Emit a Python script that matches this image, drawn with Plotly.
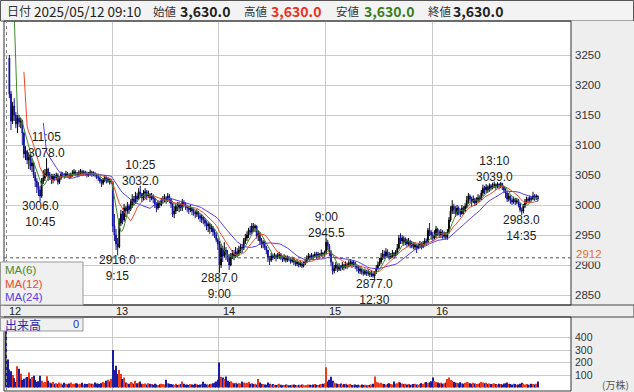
import plotly.graph_objects as go
import pandas as pd

W, H = 634, 392
FONT = "Noto Sans CJK JP"
NUMFONT = "Liberation Sans"

day_labels = ["12", "13", "14", "15", "16"]
bars_per_day = 66

# ---------------- 5-minute bars, 2025/05/12 ----------------
d12_open = [3630, 3630, 3245, 3185, 3140, 3165, 3150, 3135, 3145, 3138,
            3140, 3120, 3085, 3090, 3075, 3080, 3065, 3070, 3050, 3040,
            3030, 3025, 3015, 3040, 3045, 3052, 3060, 3048, 3050, 3042,
            3048, 3045, 3050, 3038, 3045, 3052, 3050, 3048, 3052, 3050,
            3047, 3050, 3053, 3055, 3052, 3050, 3054, 3056, 3052, 3055,
            3053, 3050, 3052, 3055, 3051, 3053, 3050, 3047, 3045, 3040,
            3036, 3042, 3046, 3040, 3043, 3038]
d12_high = [3630, 3630, 3250, 3190, 3172, 3178, 3155, 3150, 3150, 3145,
            3142, 3122, 3098, 3092, 3088, 3085, 3078, 3072, 3055, 3045,
            3038, 3032, 3045, 3058, 3060, 3078, 3062, 3055, 3052, 3052,
            3052, 3054, 3053, 3048, 3056, 3055, 3053, 3057, 3055, 3053,
            3054, 3058, 3060, 3058, 3055, 3058, 3060, 3059, 3058, 3057,
            3056, 3055, 3059, 3057, 3056, 3055, 3052, 3050, 3048, 3043,
            3045, 3050, 3048, 3046, 3045, 3043]
d12_low = [3630, 3630, 3178, 3125, 3135, 3140, 3128, 3120, 3130, 3128,
           3100, 3078, 3075, 3068, 3060, 3058, 3055, 3045, 3030, 3020,
           3015, 3006, 3012, 3035, 3040, 3048, 3040, 3042, 3035, 3036,
           3040, 3041, 3034, 3035, 3042, 3046, 3044, 3045, 3046, 3043,
           3044, 3047, 3049, 3048, 3046, 3047, 3050, 3048, 3049, 3049,
           3046, 3047, 3049, 3047, 3048, 3046, 3043, 3040, 3036, 3030,
           3033, 3038, 3036, 3037, 3034, 3035]
d12_close = [3630, 3630, 3185, 3140, 3165, 3150, 3135, 3145, 3138, 3140,
             3120, 3085, 3090, 3075, 3080, 3065, 3070, 3050, 3040, 3030,
             3025, 3015, 3040, 3045, 3052, 3060, 3048, 3050, 3042, 3048,
             3045, 3050, 3038, 3045, 3052, 3050, 3048, 3052, 3050, 3047,
             3050, 3053, 3055, 3052, 3050, 3054, 3056, 3052, 3055, 3053,
             3050, 3052, 3055, 3051, 3053, 3050, 3047, 3045, 3040, 3036,
             3042, 3046, 3040, 3043, 3038, 3040]
d12_vol = [900, 225, 145, 130, 100, 75, 45, 170, 150, 110,
           60, 70, 80, 85, 120, 70, 85, 95, 60, 45,
           50, 95, 55, 40, 45, 90, 55, 40, 35, 45,
           30, 35, 28, 40, 32, 25, 38, 30, 27, 33,
           40, 28, 30, 35, 32, 26, 30, 38, 25, 30,
           28, 35, 32, 30, 27, 40, 33, 30, 28, 35,
           45, 38, 55, 62, 48, 70]

# ---------------- 2025/05/13 ----------------
d13_open = [3038, 2965, 2950, 2935, 2930, 2970, 2985, 2975, 2995, 2990,
            2998, 2992, 3000, 3010, 3005, 3015, 3010, 3022, 3018, 3012,
            3020, 3022, 3015, 3018, 3012, 3015, 3010, 3000, 2995, 3003,
            3000, 3008, 3010, 3012, 3008, 3015, 3010, 3002, 2985, 2990,
            2998, 2995, 3000, 2995, 3005, 3002, 2998, 2995, 2992, 2995,
            2990, 2988, 2985, 2988, 2982, 2978, 2980, 2975, 2970, 2965,
            2968, 2960, 2962, 2955, 2950, 2942]
d13_high = [3040, 2985, 2960, 2945, 2978, 2992, 2990, 3002, 2998, 3005,
            3002, 3008, 3018, 3015, 3022, 3020, 3028, 3032, 3020, 3025,
            3028, 3025, 3024, 3020, 3020, 3018, 3012, 3005, 3008, 3006,
            3012, 3015, 3018, 3015, 3020, 3018, 3012, 3003, 2998, 3003,
            3005, 3005, 3003, 3010, 3008, 3005, 3000, 2998, 3000, 2996,
            2994, 2992, 2993, 2990, 2986, 2985, 2982, 2978, 2974, 2972,
            2970, 2968, 2965, 2960, 2955, 2945]
d13_low = [2955, 2940, 2925, 2916, 2928, 2965, 2968, 2972, 2980, 2985,
           2985, 2990, 2995, 3000, 3002, 3005, 3008, 3012, 3005, 3008,
           3010, 3008, 3012, 3005, 3008, 3003, 2995, 2988, 2992, 2995,
           2998, 3003, 3005, 3002, 3005, 3003, 2995, 2980, 2978, 2985,
           2990, 2988, 2990, 2990, 2996, 2992, 2988, 2985, 2988, 2983,
           2982, 2978, 2980, 2976, 2972, 2970, 2968, 2964, 2958, 2955,
           2952, 2955, 2948, 2945, 2938, 2925]
d13_close = [2965, 2950, 2935, 2930, 2970, 2985, 2975, 2995, 2990, 2998,
             2992, 3000, 3010, 3005, 3015, 3010, 3022, 3018, 3012, 3020,
             3022, 3015, 3018, 3012, 3015, 3010, 3000, 2995, 3003, 3000,
             3008, 3010, 3012, 3008, 3015, 3010, 3002, 2985, 2990, 2998,
             2995, 3000, 2995, 3005, 3002, 2998, 2995, 2992, 2995, 2990,
             2988, 2985, 2988, 2982, 2978, 2980, 2975, 2970, 2965, 2968,
             2960, 2962, 2955, 2950, 2942, 2935]
d13_vol = [300, 140, 175, 108, 140, 108, 68, 81, 40, 35,
           30, 45, 38, 30, 54, 35, 40, 48, 30, 28,
           32, 25, 35, 30, 28, 22, 30, 25, 20, 26,
           30, 28, 25, 62, 35, 30, 28, 25, 22, 30,
           20, 25, 28, 49, 30, 22, 25, 20, 28, 25,
           22, 30, 26, 20, 24, 28, 46, 30, 25, 22,
           28, 30, 35, 40, 48, 62]

# ---------------- 2025/05/14 ----------------
d14_open = [2935, 2900, 2928, 2915, 2925, 2918, 2912, 2900, 2915, 2920,
            2915, 2922, 2918, 2925, 2930, 2928, 2940, 2945, 2950, 2958,
            2955, 2965, 2962, 2965, 2948, 2952, 2940, 2935, 2938, 2930,
            2925, 2912, 2908, 2915, 2912, 2916, 2912, 2915, 2918, 2912,
            2910, 2914, 2908, 2912, 2910, 2906, 2910, 2905, 2902, 2905,
            2900, 2903, 2898, 2902, 2906, 2912, 2915, 2912, 2916, 2914,
            2918, 2915, 2918, 2916, 2920, 2918]
d14_high = [2940, 2935, 2932, 2938, 2930, 2925, 2918, 2920, 2925, 2925,
            2930, 2928, 2932, 2935, 2935, 2945, 2952, 2956, 2962, 2965,
            2970, 2970, 2968, 2966, 2958, 2955, 2945, 2942, 2940, 2932,
            2925, 2915, 2920, 2918, 2920, 2918, 2920, 2922, 2920, 2915,
            2918, 2916, 2916, 2915, 2912, 2914, 2912, 2908, 2910, 2906,
            2908, 2905, 2906, 2910, 2916, 2920, 2918, 2920, 2918, 2922,
            2922, 2922, 2920, 2926, 2922, 2924]
d14_low = [2887, 2895, 2905, 2912, 2908, 2905, 2892, 2898, 2910, 2908,
           2912, 2912, 2915, 2920, 2920, 2925, 2935, 2940, 2945, 2950,
           2952, 2955, 2955, 2944, 2940, 2935, 2928, 2928, 2925, 2918,
           2905, 2900, 2905, 2908, 2910, 2906, 2910, 2910, 2908, 2905,
           2906, 2904, 2905, 2906, 2902, 2904, 2900, 2898, 2898, 2896,
           2897, 2895, 2896, 2900, 2904, 2908, 2908, 2910, 2909, 2912,
           2910, 2912, 2911, 2914, 2912, 2914]
d14_close = [2900, 2928, 2915, 2925, 2918, 2912, 2900, 2915, 2920, 2915,
             2922, 2918, 2925, 2930, 2928, 2940, 2945, 2950, 2958, 2955,
             2965, 2962, 2965, 2948, 2952, 2940, 2935, 2938, 2930, 2925,
             2912, 2908, 2915, 2912, 2916, 2912, 2915, 2918, 2912, 2910,
             2914, 2908, 2912, 2910, 2906, 2910, 2905, 2902, 2905, 2900,
             2903, 2898, 2902, 2906, 2912, 2915, 2912, 2916, 2914, 2918,
             2915, 2918, 2916, 2920, 2918, 2920]
d14_vol = [200, 86, 81, 68, 89, 54, 45, 50, 40, 35,
           38, 30, 35, 32, 49, 40, 35, 38, 45, 30,
           35, 28, 30, 25, 68, 40, 30, 28, 25, 22,
           40, 30, 25, 28, 22, 20, 25, 30, 22, 18,
           20, 25, 22, 18, 20, 22, 25, 20, 18, 22,
           20, 25, 22, 18, 20, 24, 22, 20, 25, 28,
           22, 20, 25, 28, 30, 35]

# ---------------- 2025/05/15 ----------------
d15_open = [2920, 2938, 2932, 2922, 2905, 2890, 2895, 2900, 2893, 2898,
            2895, 2900, 2896, 2902, 2898, 2903, 2905, 2900, 2904, 2898,
            2895, 2890, 2893, 2888, 2886, 2890, 2886, 2888, 2884, 2886,
            2882, 2888, 2895, 2900, 2905, 2912, 2918, 2915, 2922, 2918,
            2912, 2916, 2920, 2915, 2920, 2928, 2945, 2940, 2945, 2938,
            2942, 2935, 2940, 2932, 2936, 2930, 2934, 2928, 2932, 2935,
            2930, 2936, 2940, 2938, 2958, 2955]
d15_high = [2945.5, 2942, 2935, 2925, 2905, 2900, 2905, 2902, 2903, 2900,
            2905, 2902, 2906, 2904, 2908, 2910, 2908, 2908, 2905, 2900,
            2898, 2898, 2895, 2892, 2894, 2892, 2893, 2890, 2891, 2888,
            2890, 2900, 2906, 2912, 2920, 2925, 2924, 2928, 2926, 2922,
            2920, 2925, 2922, 2925, 2935, 2950, 2953, 2950, 2948, 2946,
            2944, 2945, 2942, 2940, 2938, 2938, 2935, 2936, 2940, 2938,
            2940, 2945, 2944, 2962, 2970, 2958]
d15_low = [2918, 2925, 2915, 2898, 2884, 2886, 2890, 2888, 2890, 2890,
           2892, 2891, 2894, 2893, 2896, 2898, 2895, 2897, 2893, 2889,
           2886, 2885, 2884, 2882, 2883, 2882, 2882, 2880, 2880, 2879,
           2877, 2885, 2892, 2898, 2902, 2908, 2910, 2912, 2912, 2908,
           2910, 2912, 2910, 2914, 2918, 2926, 2935, 2935, 2932, 2933,
           2930, 2932, 2928, 2928, 2926, 2925, 2920, 2926, 2928, 2926,
           2928, 2932, 2933, 2936, 2948, 2942]
d15_close = [2938, 2932, 2922, 2905, 2890, 2895, 2900, 2893, 2898, 2895,
             2900, 2896, 2902, 2898, 2903, 2905, 2900, 2904, 2898, 2895,
             2890, 2893, 2888, 2886, 2890, 2886, 2888, 2884, 2886, 2882,
             2888, 2895, 2900, 2905, 2912, 2918, 2915, 2922, 2918, 2912,
             2916, 2920, 2915, 2920, 2928, 2945, 2940, 2945, 2938, 2942,
             2935, 2940, 2932, 2936, 2930, 2934, 2928, 2932, 2935, 2930,
             2936, 2940, 2938, 2958, 2955, 2950]
d15_vol = [162, 49, 62, 86, 54, 40, 35, 30, 28, 32,
           25, 28, 30, 22, 25, 28, 20, 22, 25, 20,
           22, 18, 25, 20, 22, 18, 20, 22, 25, 30,
           89, 46, 40, 35, 38, 30, 28, 25, 30, 35,
           28, 25, 49, 30, 35, 45, 40, 32, 28, 30,
           25, 28, 22, 25, 28, 30, 25, 22, 28, 35,
           30, 40, 45, 38, 42, 50]

# ---------------- 2025/05/16 ----------------
d16_open = [2950, 2945, 2950, 2960, 2955, 2950, 2955, 2948, 2952, 2946,
            2955, 2975, 2990, 2998, 2992, 2985, 2995, 2990, 2985, 2995,
            2990, 2998, 3008, 3015, 3010, 3005, 3010, 3003, 3008, 3012,
            3010, 3020, 3028, 3025, 3030, 3025, 3032, 3028, 3033, 3034,
            3030, 3035, 3032, 3036, 3030, 3025, 3020, 3010, 3015, 3008,
            3005, 3010, 3005, 3008, 3002, 2992, 2990, 2998, 3005, 3010,
            3008, 3012, 3010, 3015, 3012, 3015]
d16_high = [2955, 2958, 2965, 2962, 2958, 2960, 2958, 2956, 2955, 2960,
            2980, 2998, 3008, 3002, 2998, 3000, 2998, 2994, 3000, 2998,
            3003, 3015, 3020, 3018, 3014, 3016, 3012, 3013, 3018, 3016,
            3025, 3034, 3032, 3035, 3033, 3036, 3035, 3037, 3039, 3036,
            3038, 3036, 3038, 3037, 3032, 3028, 3022, 3020, 3016, 3012,
            3014, 3012, 3012, 3010, 3004, 2996, 3002, 3010, 3014, 3013,
            3016, 3015, 3022, 3018, 3018, 3016]
d16_low = [2940, 2942, 2945, 2948, 2945, 2945, 2944, 2944, 2942, 2942,
           2952, 2972, 2985, 2985, 2980, 2982, 2983, 2980, 2984, 2985,
           2988, 2995, 3002, 3003, 2998, 3003, 2998, 3000, 3005, 3005,
           3008, 3015, 3018, 3020, 3020, 3022, 3024, 3026, 3028, 3025,
           3028, 3026, 3028, 3025, 3020, 3012, 3005, 3006, 3002, 3000,
           3002, 3000, 3001, 2996, 2988, 2983, 2986, 2995, 3002, 3003,
           3005, 3006, 3008, 3007, 3008, 3006]
d16_close = [2945, 2950, 2960, 2955, 2950, 2955, 2948, 2952, 2946, 2955,
             2975, 2990, 2998, 2992, 2985, 2995, 2990, 2985, 2995, 2990,
             2998, 3008, 3015, 3010, 3005, 3010, 3003, 3008, 3012, 3010,
             3020, 3028, 3025, 3030, 3025, 3032, 3028, 3033, 3034, 3030,
             3035, 3032, 3036, 3030, 3025, 3020, 3010, 3015, 3008, 3005,
             3010, 3005, 3008, 3002, 2992, 2990, 2998, 3005, 3010, 3008,
             3012, 3010, 3015, 3012, 3015, 3010]
d16_vol = [81, 54, 45, 40, 35, 38, 30, 35, 40, 68,
           81, 60, 54, 45, 40, 38, 35, 42, 35, 30,
           38, 45, 40, 35, 30, 38, 32, 28, 30, 35,
           45, 40, 35, 38, 30, 32, 28, 30, 35, 28,
           25, 30, 28, 25, 32, 35, 40, 30, 28, 25,
           30, 28, 22, 25, 30, 38, 30, 25, 28, 22,
           25, 30, 28, 25, 30, 49]

# marked highs / lows: (day, bar index in day, time label, value, kind)
marks = [
    (0, 25, "11:05", 3078.0, "high"),
    (0, 21, "10:45", 3006.0, "low"),
    (1, 17, "10:25", 3032.0, "high"),
    (1, 3, "9:15", 2916.0, "low"),
    (2, 0, "9:00", 2887.0, "low"),
    (3, 0, "9:00", 2945.5, "high"),
    (3, 30, "12:30", 2877.0, "low"),
    (4, 38, "13:10", 3039.0, "high"),
    (4, 55, "14:35", 2983.0, "low"),
]
ref_price = 2912
price_ticks = [2850, 2900, 2950, 3000, 3050, 3100, 3150, 3200, 3250]
vol_ticks = [100, 200, 300, 400]

header_date = "2025/05/12 09:10"
header_vals = {"始値": "3,630.0", "高値": "3,630.0", "安値": "3,630.0", "終値": "3,630.0"}

# ---------------------------------------------------------------
opens = d12_open + d13_open + d14_open + d15_open + d16_open
highs = d12_high + d13_high + d14_high + d15_high + d16_high
lows = d12_low + d13_low + d14_low + d15_low + d16_low
closes = d12_close + d13_close + d14_close + d15_close + d16_close
vols = d12_vol + d13_vol + d14_vol + d15_vol + d16_vol
n = len(closes)
xi = list(range(n))

cs = pd.Series(closes, dtype=float)
ma6 = cs.rolling(6).mean()
ma12 = cs.rolling(12).mean()
ma24 = cs.rolling(24).mean()

UP, DOWN = "#000000", "#14149c"
VUP, VDOWN = "#ec3a1c", "#1c1ca0"
C6, C12, C24 = "#3f8a2c", "#f0482a", "#5a3cf5"
GRID = "#cbcbcb"

vcol = [VUP if c > o else VDOWN for o, c in zip(opens, closes)]

fig = go.Figure()
fig.add_trace(go.Candlestick(
    x=xi, open=opens, high=highs, low=lows, close=closes,
    increasing=dict(line=dict(color=UP, width=1), fillcolor=UP),
    decreasing=dict(line=dict(color=DOWN, width=1), fillcolor=DOWN),
    whiskerwidth=0, showlegend=False, hoverinfo="skip",
    xaxis="x", yaxis="y"))
for ma, col in ((ma24, C24), (ma12, C12), (ma6, C6)):
    fig.add_trace(go.Scatter(x=xi, y=ma, mode="lines",
                             line=dict(color=col, width=1),
                             showlegend=False, hoverinfo="skip",
                             xaxis="x", yaxis="y"))
fig.add_trace(go.Bar(x=xi, y=vols, marker=dict(color=vcol, line=dict(width=0)),
                     showlegend=False, hoverinfo="skip",
                     xaxis="x2", yaxis="y2"))


def fx(p):
    return p / W


def fy(p):
    return 1 - p / H


# pixel frame of the panels
PL, PR = 4, 571
PT, PB = 21, 305
VT, VB = 317, 391
bar_px = (432 - 112) / (3 * bars_per_day)
x0_px = 112 - (bars_per_day - 0.5) * bar_px
xr = [(PL - x0_px) / bar_px, (PR - x0_px) / bar_px]
px_per_yen = 0.6
y_top = 3250 + (55 - PT) / px_per_yen
y_bot = 3250 - (PB - 55) / px_per_yen
v_zero_px, v_px = 387.5, 0.125
v_range = [-(VB - v_zero_px) / v_px, (v_zero_px - VT) / v_px]

bounds = [bars_per_day * k - 0.5 for k in range(1, len(day_labels))]

axis_x = dict(range=xr, tickvals=bounds, showticklabels=False, showgrid=True,
              gridcolor=GRID, gridwidth=1, zeroline=False, showline=False,
              fixedrange=True, domain=[fx(PL), fx(PR)])
fig.update_layout(
    width=W, height=H, autosize=False,
    margin=dict(l=0, r=0, t=0, b=0, pad=0),
    paper_bgcolor="#ffffff", plot_bgcolor="#ffffff",
    hovermode=False, showlegend=False, bargap=0.35,
    font=dict(family=FONT, color="#222222", size=12),
    xaxis=dict(axis_x, anchor="y", rangeslider=dict(visible=False)),
    xaxis2=dict(axis_x, anchor="y2"),
    yaxis=dict(domain=[fy(PB), fy(PT)], range=[y_bot, y_top], side="right",
               tickvals=price_ticks, ticks="", showgrid=True, gridcolor=GRID,
               zeroline=False, showline=False, ticklabelstandoff=3,
               tickfont=dict(size=11.5, color="#333333", family=NUMFONT)),
    yaxis2=dict(domain=[fy(VB), fy(VT)], range=v_range, side="right",
                tickvals=vol_ticks, ticks="", showgrid=True, gridcolor=GRID,
                zeroline=False, showline=False, ticklabelstandoff=3,
                tickfont=dict(size=10.5, color="#333333", family=NUMFONT)),
)

shapes = []
# header
shapes.append(dict(type="rect", xref="paper", yref="paper", x0=fx(0.5), x1=fx(633.5),
                   y0=fy(21), y1=fy(0.5), fillcolor="#f3f3f3",
                   line=dict(color="#555555", width=1), layer="below"))
# right axis panel
shapes.append(dict(type="rect", xref="paper", yref="paper", x0=fx(PR), x1=fx(634),
                   y0=fy(392), y1=fy(21), fillcolor="#eeeeee",
                   line=dict(width=0), layer="below"))
# date strip
shapes.append(dict(type="rect", xref="paper", yref="paper", x0=fx(0), x1=fx(634),
                   y0=fy(VT), y1=fy(PB), fillcolor="#eeeeee",
                   line=dict(color="#444444", width=1), layer="below"))
# panel frames
for t, b in ((PT, PB), (VT, VB)):
    shapes.append(dict(type="rect", xref="paper", yref="paper", x0=fx(PL), x1=fx(PR),
                       y0=fy(b), y1=fy(t), line=dict(color="#333333", width=1)))
# cursor line
for t, b in ((PT, PB), (VT, VB)):
    shapes.append(dict(type="line", xref="paper", yref="paper", x0=fx(6.5), x1=fx(6.5),
                       y0=fy(b), y1=fy(t), line=dict(color="#888888", width=1, dash="dot")))
# reference price line
shapes.append(dict(type="line", xref="paper", yref="y", x0=fx(PL), x1=fx(PR),
                   y0=ref_price, y1=ref_price,
                   line=dict(color="#555555", width=1, dash="dot")))
# MA legend box and volume box
shapes.append(dict(type="rect", xref="paper", yref="paper", x0=fx(0.5), x1=fx(83),
                   y0=fy(PB), y1=fy(262), fillcolor="#f0f0f0",
                   line=dict(color="#999999", width=1)))
shapes.append(dict(type="rect", xref="paper", yref="paper", x0=fx(0.5), x1=fx(83),
                   y0=fy(331), y1=fy(VT + 1), fillcolor="#f0f0f0",
                   line=dict(color="#999999", width=1)))

ann = []


def txt(x, y, s, size=12, color="#222222", xanchor="left", bold=False, bg=None, family=FONT):
    d = dict(xref="paper", yref="paper", x=fx(x), y=fy(y), text=(f"<b>{s}</b>" if bold else s),
             showarrow=False, xanchor=xanchor, yanchor="middle",
             font=dict(size=size, color=color, family=family))
    if bg:
        d["bgcolor"] = bg
    ann.append(d)


# header texts
txt(5, 11, "日付", size=12, color="#333333")
txt(32, 11, header_date, size=13.5, color="#222222")
hx = [(151, 178, "#222222"), (242, 269, "#e8321e"), (334, 362, "#3b7d1f"), (426, 451, "#222222")]
for (lx, vx, col), (k, v) in zip(hx, header_vals.items()):
    txt(lx, 11, k, size=11.5, color="#333333")
    txt(vx, 11, v, size=14, color=col, bold=True)

# MA legend
txt(3, 270, "MA(6)", size=11.5, color="#4a8a2c", family=NUMFONT)
txt(3, 283.5, "MA(12)", size=11.5, color="#ee4a2a", family=NUMFONT)
txt(3, 297, "MA(24)", size=11.5, color="#5a3ce8", family=NUMFONT)
# volume box
txt(3, 324, "出来高", size=12, color="#2a2ab4")
txt(81, 324, "0", size=11, color="#2a2ab4", xanchor="right", family=NUMFONT)
# day labels
for k, d in enumerate(day_labels):
    txt(x0_px + (bars_per_day * k - 0.5) * bar_px + 2, 311, d, size=11, color="#222222",
        family=NUMFONT)
# unit
txt(631, 384, "(万株)", size=10, color="#555555", xanchor="right")
# reference price label (drawn over the 2900 tick label, as in the original)
txt(574, 254, str(ref_price), size=11.5, color="#e8702e", bg="#eeeeee", family=NUMFONT)
shapes.append(dict(type="line", xref="paper", yref="paper", x0=fx(575), x1=fx(598),
                   y0=fy(261), y1=fy(261), line=dict(color="#e8702e", width=1)))
fig.update_layout(shapes=shapes)

# high / low marks (two-line labels: time above price for highs, price above time for lows)
for day, bi, tlabel, val, kind in marks:
    xv = day * bars_per_day + bi
    if kind == "high":
        text, ys = f"{tlabel}<br>{val:.1f}", 13
    else:
        text, ys = f"{val:.1f}<br>{tlabel}", -13
    ann.append(dict(xref="x", yref="y", x=xv, y=val, text=text, showarrow=False,
                    xanchor="center", yanchor="middle", yshift=ys, borderpad=0,
                    font=dict(size=12, color="#222222", family=NUMFONT)))

fig.update_layout(annotations=ann)
fig.write_html("out.html")
